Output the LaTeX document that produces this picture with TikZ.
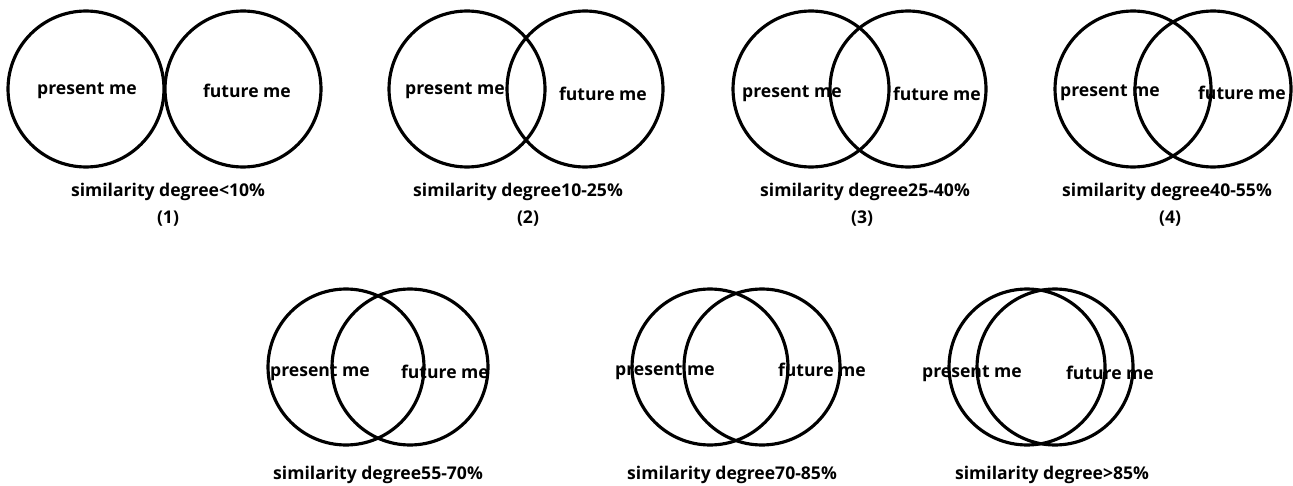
\documentclass[tikz,border=0pt]{standalone}
\usepackage{fontspec}
\setmainfont{Open Sans}
\usetikzlibrary{positioning}

\tikzset{
  selfring/.style={circle, draw, line width=1.8pt, minimum size=3.12cm, inner sep=0pt},
  melabel/.style={font=\bfseries\fontsize{10}{12}\selectfont, inner sep=0pt},
  caplabel/.style={font=\bfseries\fontsize{10}{12}\selectfont, inner sep=0pt},
}

\begin{document}
\begin{tikzpicture}[x=0.02cm, y=-0.02cm]

\useasboundingbox (0,0) rectangle (1293,486);

% ---------------------------------------------------------------------------
% (1) similarity degree < 10%
% ---------------------------------------------------------------------------
\node[selfring] (pres1) at (86,89) {};
\node[selfring] (fut1) at (243,89) {};
\node[melabel] (ptxt1) at (87,91) {present me};
\node[melabel] (ftxt1) at (247,91) {future me};
\node[caplabel] (cap1) at (168,192) {similarity degree<10\%};
\node[caplabel] (num1) at (168,219) {(1)};

% ---------------------------------------------------------------------------
% (2) similarity degree 10-25%
% ---------------------------------------------------------------------------
\node[selfring] (pres2) at (467,89) {};
\node[selfring] (fut2) at (585,89) {};
\node[melabel] (ptxt2) at (455,91) {present me};
\node[melabel] (ftxt2) at (603,94) {future me};
\node[caplabel] (cap2) at (518,192) {similarity degree10-25\%};
\node[caplabel] (num2) at (528,219) {(2)};

% ---------------------------------------------------------------------------
% (3) similarity degree 25-40%
% ---------------------------------------------------------------------------
\node[selfring] (pres3) at (811,89) {};
\node[selfring] (fut3) at (908,89) {};
\node[melabel] (ptxt3) at (792,94) {present me};
\node[melabel] (ftxt3) at (937,94) {future me};
\node[caplabel] (cap3) at (865,192) {similarity degree25-40\%};
\node[caplabel] (num3) at (862,219) {(3)};

% ---------------------------------------------------------------------------
% (4) similarity degree 40-55%
% ---------------------------------------------------------------------------
\node[selfring] (pres4) at (1133,89) {};
\node[selfring] (fut4) at (1213,89) {};
\node[melabel] (ptxt4) at (1110,93) {present me};
\node[melabel] (ftxt4) at (1242,93) {future me};
\node[caplabel] (cap4) at (1167,192) {similarity degree40-55\%};
\node[caplabel] (num4) at (1170,219) {(4)};

% ===========================================================================
%  lower row
% ===========================================================================
\node[selfring] (pres5) at (346,367) {};
\node[selfring] (fut5) at (410,367) {};
\node[melabel] (ptxt5) at (320,373) {present me};
\node[melabel] (ftxt5) at (445,372) {future me};
\node[caplabel] (cap5) at (378,475) {similarity degree55-70\%};

\node[selfring] (pres6) at (710,367) {};
\node[selfring] (fut6) at (762,367) {};
\node[melabel] (ptxt6) at (665,372) {present me};
\node[melabel] (ftxt6) at (822,370) {future me};
\node[caplabel] (cap6) at (732,475) {similarity degree70-85\%};

\node[selfring] (pres7) at (1027,367) {};
\node[selfring] (fut7) at (1055,367) {};
\node[melabel] (ptxt7) at (972,374) {present me};
\node[melabel] (ftxt7) at (1110,373) {future me};
\node[caplabel] (cap7) at (1052,475) {similarity degree>85\%};

\end{tikzpicture}
\end{document}
